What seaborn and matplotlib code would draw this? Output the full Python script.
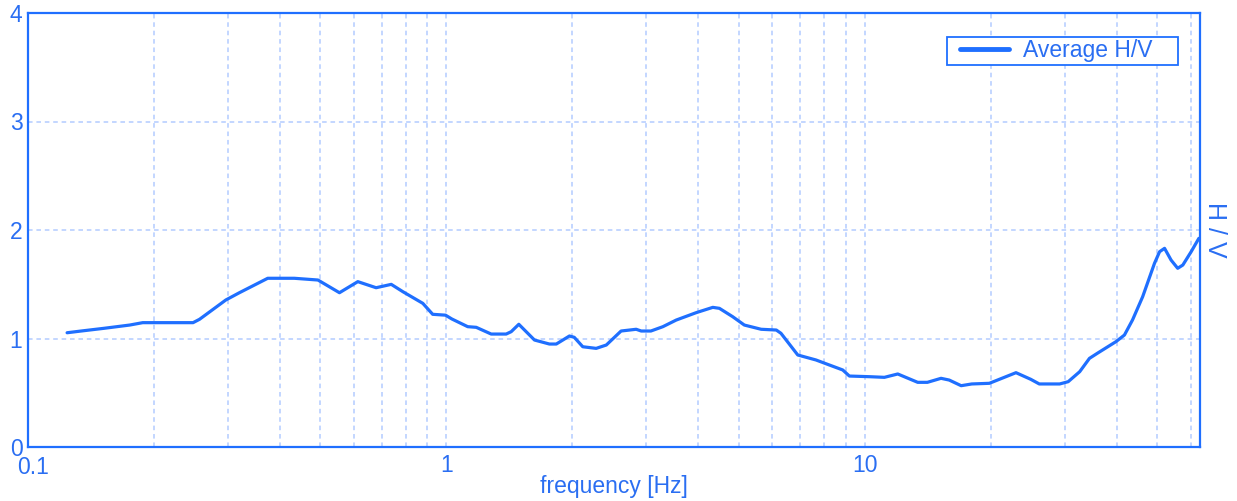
import numpy as np
import pandas as pd
import matplotlib
matplotlib.use("Agg")
import matplotlib.pyplot as plt
from matplotlib.patches import Rectangle
from matplotlib.transforms import ScaledTranslation
from matplotlib.ticker import LogLocator, FixedLocator, FixedFormatter, NullFormatter
import seaborn as sns

# Average H/V spectral ratio
freq = [0.124, 0.134, 0.152, 0.175, 0.188, 0.248, 0.257, 0.297, 0.320, 0.374,
        0.433, 0.493, 0.555, 0.614, 0.679, 0.738, 0.787, 0.878, 0.927, 0.995,
        1.03, 1.124, 1.178, 1.279, 1.389, 1.428, 1.489, 1.623, 1.762, 1.83,
        1.967, 2.02, 2.117, 2.279, 2.41, 2.614, 2.84, 2.92, 3.08, 3.29,
        3.54, 3.95, 4.33, 4.49, 4.83, 5.15, 5.65, 6.14, 6.30, 6.91,
        7.64, 8.22, 8.85, 9.18, 10.26, 11.13, 11.98, 13.37, 14.1, 15.2,
        15.9, 16.98, 18.0, 19.83, 22.96, 24.9, 26.1, 29.2, 30.6, 32.6,
        34.4, 35.9, 39.8, 41.7, 43.6, 46.1, 49.2, 50.6, 52.0, 53.9,
        55.9, 57.5, 60.2, 62.8]
hv = [1.053, 1.069, 1.094, 1.124, 1.146, 1.146, 1.177, 1.355, 1.422, 1.555,
      1.555, 1.539, 1.422, 1.524, 1.468, 1.499, 1.431, 1.324, 1.223, 1.215,
      1.180, 1.109, 1.103, 1.041, 1.041, 1.063, 1.131, 0.986, 0.949, 0.949,
      1.023, 1.011, 0.924, 0.909, 0.940, 1.069, 1.085, 1.069, 1.069, 1.109,
      1.170, 1.238, 1.287, 1.278, 1.201, 1.124, 1.085, 1.078, 1.048, 0.848,
      0.802, 0.756, 0.710, 0.654, 0.648, 0.642, 0.673, 0.596, 0.596, 0.633,
      0.617, 0.565, 0.581, 0.587, 0.685, 0.624, 0.581, 0.581, 0.602, 0.694,
      0.817, 0.863, 0.971, 1.032, 1.171, 1.385, 1.693, 1.800, 1.831, 1.723,
      1.647, 1.677, 1.800, 1.923]

x_major = [0.1, 1, 10]
x_major_labels = ["0.1", "1", "10"]
y_ticks = [0, 1, 2, 3, 4]

BLUE = "#1f6fff"
TEXT = "#2a6ef2"
GRID = "#b3ccff"

sns.set_style("white")
plt.rcParams["font.family"] = ["Liberation Sans", "DejaVu Sans"]

df = pd.DataFrame({"frequency": freq, "hv": hv})

W, H = 1237, 501
fig = plt.figure(figsize=(W / 100, H / 100), dpi=100)
# plot area: left 28 px, right 1200 px, top 13 px, bottom 447 px
ax = fig.add_axes([28 / W, 54 / H, 1172 / W, 434 / H])

sns.lineplot(data=df, x="frequency", y="hv", ax=ax, color=BLUE,
             linewidth=2.3, label="Average H/V", sort=False)

ax.set_xscale("log")
ax.set_xlim(0.1, 63.2)
ax.set_ylim(0, 4)

ax.xaxis.set_major_locator(FixedLocator(x_major))
ax.xaxis.set_major_formatter(FixedFormatter(x_major_labels))
ax.xaxis.set_minor_locator(LogLocator(base=10, subs=np.arange(2, 10)))
ax.xaxis.set_minor_formatter(NullFormatter())
ax.set_yticks(y_ticks)
ax.set_yticklabels([str(v) for v in y_ticks])

ax.grid(True, which="both", axis="x", color=GRID, linestyle=(0, (3, 2.5)), linewidth=1.1)
ax.grid(True, which="major", axis="y", color=GRID, linestyle=(0, (3, 2.5)), linewidth=1.1)
ax.set_axisbelow(True)

ax.tick_params(axis="both", which="both", length=0, colors=TEXT, labelsize=16.5)
ax.tick_params(axis="x", pad=5)
ax.tick_params(axis="y", pad=4)

# nudge the first frequency label inward so it clears the corner
first = ax.get_xticklabels()[0]
first.set_transform(first.get_transform() + ScaledTranslation(5 / 100, -2 / 100, fig.dpi_scale_trans))

for s in ax.spines.values():
    s.set_visible(True)
    s.set_color(BLUE)
    s.set_linewidth(1.6)

ax.set_xlabel("frequency [Hz]", color=TEXT, fontsize=16.5, labelpad=-2.5)
ax.yaxis.set_label_position("right")
ax.set_ylabel("H / V", color=TEXT, fontsize=18, rotation=270, labelpad=2, va="bottom")

# legend box
ax.add_patch(Rectangle(((947 - 28) / 1172, (447 - 65) / 434), 231 / 1172, 28 / 434,
                       transform=ax.transAxes, facecolor="white", edgecolor=BLUE,
                       linewidth=1.3, zorder=4))
leg = ax.legend(loc="center left", bbox_to_anchor=((960 - 28) / 1172, (447 - 51) / 434),
                borderaxespad=0, borderpad=0, frameon=False,
                fontsize=16.5, handlelength=2.14, handletextpad=0.6)
leg.set_zorder(5)
for t in leg.get_texts():
    t.set_color(TEXT)
for line in leg.get_lines():
    line.set_linewidth(3.5)

fig.savefig("out.png", dpi=100)
